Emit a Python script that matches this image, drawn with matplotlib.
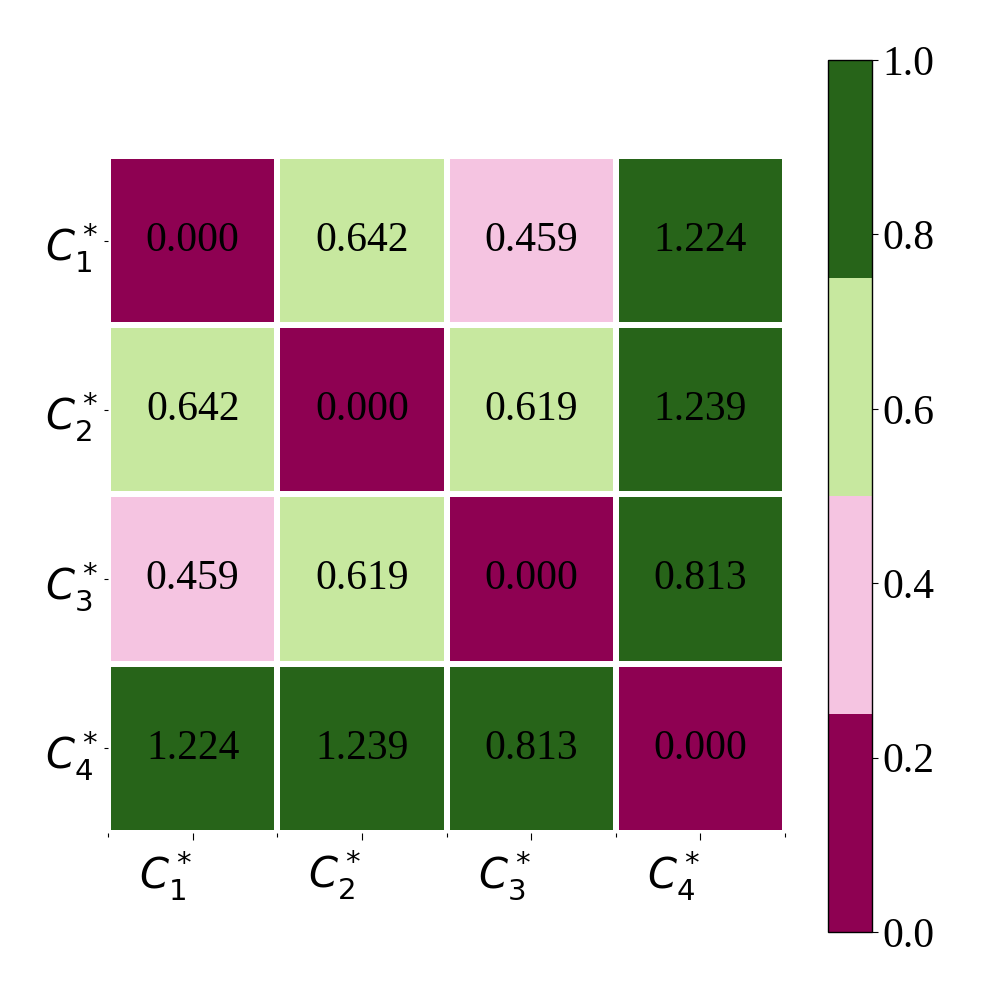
import matplotlib
matplotlib.use('Agg')
import matplotlib.pyplot as plt
import numpy as np

labels = [r'$C_1^*$', r'$C_2^*$', r'$C_3^*$', r'$C_4^*$']
dist = np.array([
    [0.000, 0.642, 0.459, 1.224],
    [0.642, 0.000, 0.619, 1.239],
    [0.459, 0.619, 0.000, 0.813],
    [1.224, 1.239, 0.813, 0.000],
])
cbar_ticks = [0.0, 0.2, 0.4, 0.6, 0.8, 1.0]

plt.rcParams['font.family'] = ['Liberation Serif', 'DejaVu Serif']

fig = plt.figure(figsize=(10, 10), dpi=100)
ax = fig.add_axes([0.108, 0.167, 0.677, 0.677])
cax = fig.add_axes([0.828, 0.068, 0.044, 0.872])

cmap = plt.get_cmap('PiYG', 4)
n = dist.shape[0]
mesh = ax.pcolormesh(np.arange(n + 1), np.arange(n + 1), dist, cmap=cmap,
                     vmin=0, vmax=1, edgecolors='white', linewidth=3)
ax.set_xlim(0, n)
ax.set_ylim(n, 0)
ax.set_aspect('equal')

for i in range(n):
    for j in range(n):
        ax.text(j + 0.5, i + 0.5, f'{dist[i, j]:.3f}', ha='center', va='center',
                fontsize=30, color='black')

for s in ax.spines.values():
    s.set_visible(False)

ax.set_xticks(np.arange(n) + 0.5)
ax.set_yticks(np.arange(n) + 0.5)
ax.set_xticklabels(labels, fontsize=30, family='DejaVu Sans', ha='right')
ax.set_yticklabels(labels, fontsize=30, family='DejaVu Sans', rotation=0)
ax.set_xticks(np.arange(n + 1), minor=True)
ax.tick_params(axis='x', which='major', length=5, width=0.8, pad=6)
ax.tick_params(axis='x', which='minor', length=3, width=0.8)
ax.tick_params(axis='y', which='major', length=3, width=0.8, pad=4)

cb = fig.colorbar(mesh, cax=cax)
cb.set_ticks(cbar_ticks)
cb.ax.set_yticklabels([f'{t:.1f}' for t in cbar_ticks])
cb.ax.tick_params(labelsize=30, length=4, width=0.8)
cb.outline.set_linewidth(1)

plt.savefig('out.png', dpi=100)
